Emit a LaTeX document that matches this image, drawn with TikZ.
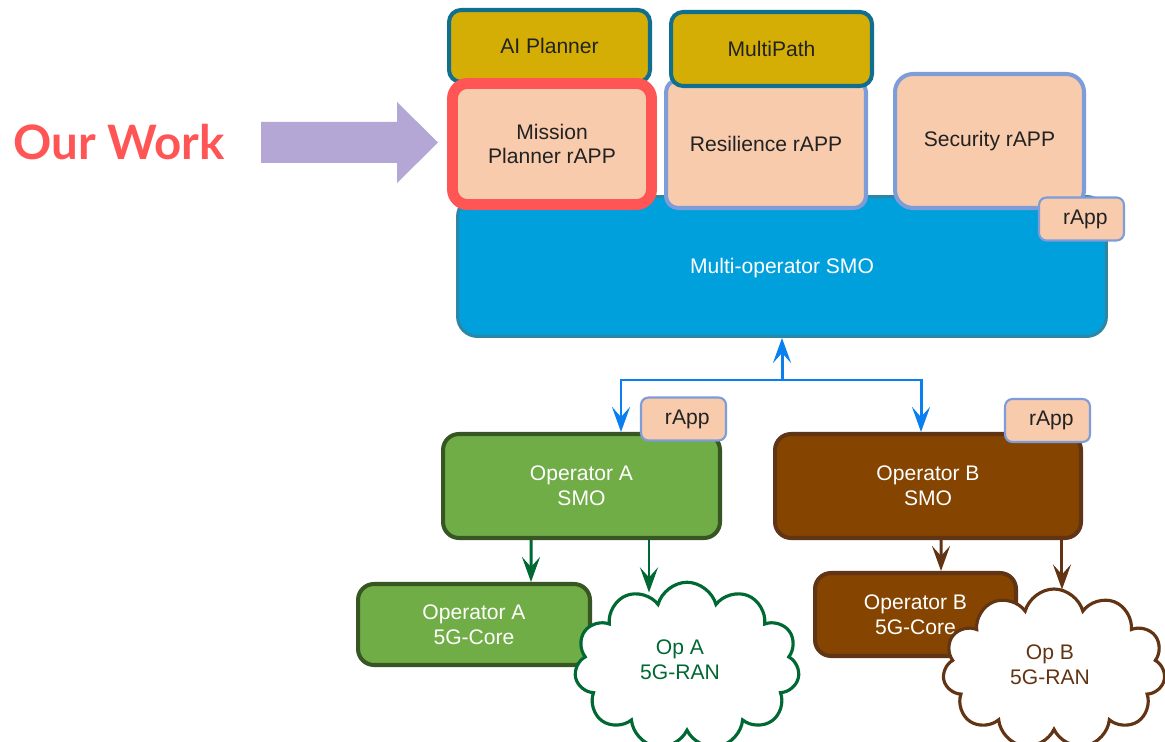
\documentclass[tikz,border=0pt]{standalone}
\usepackage{fontspec}
\setmainfont{Liberation Sans}
\newfontfamily\latofont{Lato}
\usetikzlibrary{arrows.meta,shapes.symbols}
\definecolor{gold}{RGB}{213,174,5}
\definecolor{toolline}{RGB}{16,110,143}
\definecolor{peach}{RGB}{248,203,173}
\definecolor{periline}{RGB}{126,156,216}
\definecolor{ourred}{RGB}{255,85,85}
\definecolor{smoblue}{RGB}{0,160,220}
\definecolor{smoline}{RGB}{46,134,164}
\definecolor{linkblue}{RGB}{10,128,240}
\definecolor{opgreen}{RGB}{112,173,71}
\definecolor{opgreenline}{RGB}{55,86,35}
\definecolor{rangreen}{RGB}{0,104,50}
\definecolor{opbrown}{RGB}{133,69,0}
\definecolor{opbrownline}{RGB}{96,52,20}
\definecolor{ranbrown}{RGB}{99,52,20}
\definecolor{lavender}{RGB}{180,167,214}
\definecolor{txtdark}{RGB}{34,34,34}
\tikzset{every node/.style={font=\fontsize{12}{14}\selectfont, align=center}}
\tikzset{
    box/.style={draw, rounded corners=0.24cm, line width=2.3pt, text=txtdark, inner sep=0pt},
    tool/.style={box, fill=gold, draw=toolline},
    rapp/.style={box, fill=peach, draw=periline},
    tag/.style={rapp, line width=1.2pt, rounded corners=0.15cm, minimum width=1.7cm, minimum height=0.86cm},
    opA/.style={box, fill=opgreen, draw=opgreenline, text=white, rounded corners=0.32cm},
    opB/.style={box, fill=opbrown, draw=opbrownline, text=white, rounded corners=0.32cm},
    ran/.style={cloud, cloud puffs=11, draw, fill=white, line width=1.8pt, inner sep=0pt},
    link/.style={line width=1.7pt, -{Stealth[length=0.5cm,width=0.36cm,inset=0.2cm]}},
}
\begin{document}
\begin{tikzpicture}[x=0.02cm,y=-0.02cm]
    \useasboundingbox[fill=white] (0,0) rectangle (1165,742);
    % top: SMO with its rApps
    \node[box, fill=smoblue, draw=smoline, line width=1.7pt, rounded corners=0.4cm, text=white,
        minimum width=12.98cm, minimum height=2.8cm] (smo) at (782,266.5) {};
    \node[text=white] (smotext) at (782,268) {Multi-operator SMO};
    \node[tool, minimum width=4.02cm, minimum height=1.44cm] (aiplan) at (549.5,46) {AI Planner};
    \node[rapp, draw=ourred, line width=6.2pt, rounded corners=0.3cm,
        minimum width=3.98cm, minimum height=2.42cm] (mission) at (552,144) {Mission\\Planner rAPP};
    \node[rapp, minimum width=4.0cm, minimum height=2.56cm] (resil) at (766,144) {Resilience rAPP};
    \node[tool, minimum width=4.02cm, minimum height=1.48cm] (multipath) at (771.5,49) {MultiPath};
    \node[rapp, rounded corners=0.36cm, minimum width=3.78cm, minimum height=2.68cm] (secur) at (989.5,141) {Security rAPP};
    \node[tag] (tagsmo) at (1081.5,219) {\hspace{0.15cm}rApp};
    % our work marker
    \node[text=ourred, font=\latofont\bfseries\fontsize{27}{30}\selectfont] (ourwork) at (119,142) {Our Work};
    \fill[lavender] (261,122) -- (397,122) -- (397,102) -- (438,142.5) -- (397,183) -- (397,163) -- (261,163) -- cycle;
    % operators
    \node[opA, minimum width=5.54cm, minimum height=2.08cm] (opAsmo) at (581.5,486) {Operator A\\SMO};
    \node[opB, minimum width=6.12cm, minimum height=2.08cm] (opBsmo) at (928,486) {Operator B\\SMO};
    \node[tag] (tagA) at (683.5,419) {\hspace{0.15cm}rApp};
    \node[tag] (tagB) at (1047.5,420.5) {\hspace{0.15cm}rApp};
    \node[opA, minimum width=4.64cm, minimum height=1.62cm] (opAcore) at (474,624.5) {Operator A\\5G-Core};
    \node[opB, minimum width=4.02cm, minimum height=1.66cm] (opBcore) at (915.5,614.5) {Operator B\\5G-Core};
    \node[ran, draw=rangreen, text=rangreen, minimum width=4.5cm, minimum height=3.35cm] (ranA) at (687,666) {};
    \node[text=rangreen] (ranAtext) at (680,660) {Op A\\5G-RAN};
    \node[ran, draw=ranbrown, text=ranbrown, minimum width=4.45cm, minimum height=3.2cm] (ranB) at (1054,669) {};
    \node[text=ranbrown] (ranBtext) at (1050,665) {Op B\\5G-RAN};
    % links
    \coordinate (hub) at (782,380);
    \draw[link, linkblue] (hub) -- (smo.south);
    \draw[link, linkblue] (hub) -| ([xshift=0.79cm]opAsmo.north);
    \draw[link, linkblue] (hub) -| ([xshift=-0.14cm]opBsmo.north);
    \draw[link, rangreen] ([xshift=-1.01cm]opAsmo.south) -- ([xshift=1.14cm]opAcore.north);
    \draw[link, rangreen] ([xshift=1.35cm]opAsmo.south) -- ([xshift=1.35cm]opAsmo.south |- ranA.122);
    \draw[link, ranbrown] ([xshift=0.26cm]opBsmo.south) -- ([xshift=0.51cm]opBcore.north);
    \draw[link, ranbrown] ([xshift=2.68cm]opBsmo.south) -- ([xshift=2.68cm]opBsmo.south |- ranB.82);
\end{tikzpicture}
\end{document}
